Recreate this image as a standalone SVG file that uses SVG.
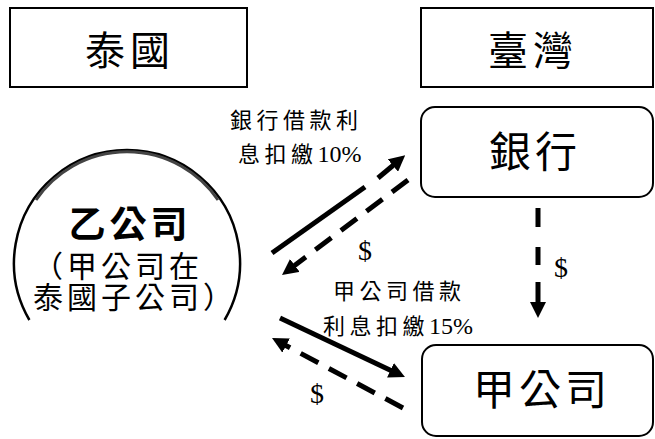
<svg xmlns="http://www.w3.org/2000/svg" width="655" height="439" viewBox="0 0 655 439">
<style>
.box{fill:#fff;stroke:#000;stroke-width:2}
.t{font-family:"Liberation Serif","Noto Sans CJK TC",serif;fill:#000}
.num{letter-spacing:0;font-size:24px}
.dollar{font-size:28px}
.conn{stroke:#000;stroke-width:5;fill:none}
.dash{stroke-dasharray:20 12}
</style>
<defs>
<marker id="ah" markerUnits="userSpaceOnUse" viewBox="0 0 16 16" markerWidth="16" markerHeight="16" refX="4" refY="8" orient="auto">
<path d="M0,0 L16,8 L0,16 z" fill="#000"/>
</marker>
</defs>
<rect width="655" height="439" fill="#fff"/>
<g id="thailand">
<rect class="box" x="10" y="8" width="237" height="79"/>
<text class="t" x="130" y="65" font-size="40" text-anchor="middle" letter-spacing="5">泰國</text>
</g>
<g id="taiwan">
<rect class="box" x="421" y="8" width="232" height="79"/>
<text class="t" x="533" y="65" font-size="40" text-anchor="middle" letter-spacing="5">臺灣</text>
</g>
<g id="bank">
<rect class="box" x="421" y="107" width="232" height="90" rx="14"/>
<text class="t" x="535" y="167" font-size="42" text-anchor="middle" letter-spacing="4">銀行</text>
</g>
<g id="companyA">
<rect class="box" x="422" y="345" width="231" height="91" rx="14"/>
<text class="t" x="542" y="405" font-size="42" text-anchor="middle" letter-spacing="4">甲公司</text>
</g>
<g id="companyB">
<path d="M 29.4 320 A 113 113 0 1 1 224.6 320" fill="none" stroke="#000" stroke-width="2.5"/>
<path d="M 36 200 A 110 110 0 0 1 218 200" fill="none" stroke="#444" stroke-width="3"/>
<text class="t" x="130" y="238" font-size="37" font-weight="bold" text-anchor="middle" letter-spacing="4">乙公司</text>
<text class="t" x="33" y="277" font-size="30" letter-spacing="4">（甲公司在</text>
<text class="t" x="33" y="308" font-size="30" letter-spacing="4">泰國子公司）</text>
</g>
<g id="connectors">
<line class="conn" x1="272" y1="253" x2="365" y2="187"/>
<line class="conn" x1="378" y1="178" x2="396" y2="163" marker-end="url(#ah)"/>
<line class="conn dash" x1="408" y1="180" x2="291.6" y2="267.8" marker-end="url(#ah)"/>
<line class="conn" x1="280" y1="318" x2="394.1" y2="371.9" marker-end="url(#ah)"/>
<line class="conn dash" x1="403" y1="408" x2="282.6" y2="343.7" marker-end="url(#ah)"/>
<line class="conn" x1="538" y1="208" x2="538" y2="306" stroke-dasharray="19 20 18 17 30" marker-end="url(#ah)"/>
</g>
<g id="labels">
<text class="t" x="230" y="128" font-size="22" letter-spacing="4.5">銀行借款利</text>
<text class="t" x="238" y="162" font-size="22" letter-spacing="4.5">息扣繳<tspan class="num">10%</tspan></text>
<text class="t" x="333" y="299" font-size="22" letter-spacing="4.5">甲公司借款</text>
<text class="t" x="323" y="334" font-size="22" letter-spacing="4.5">利息扣繳<tspan class="num">15%</tspan></text>
<text class="t dollar" x="365" y="260" text-anchor="middle">$</text>
<text class="t dollar" x="317" y="403" text-anchor="middle">$</text>
<text class="t dollar" x="561" y="277" text-anchor="middle">$</text>
</g>
</svg>
